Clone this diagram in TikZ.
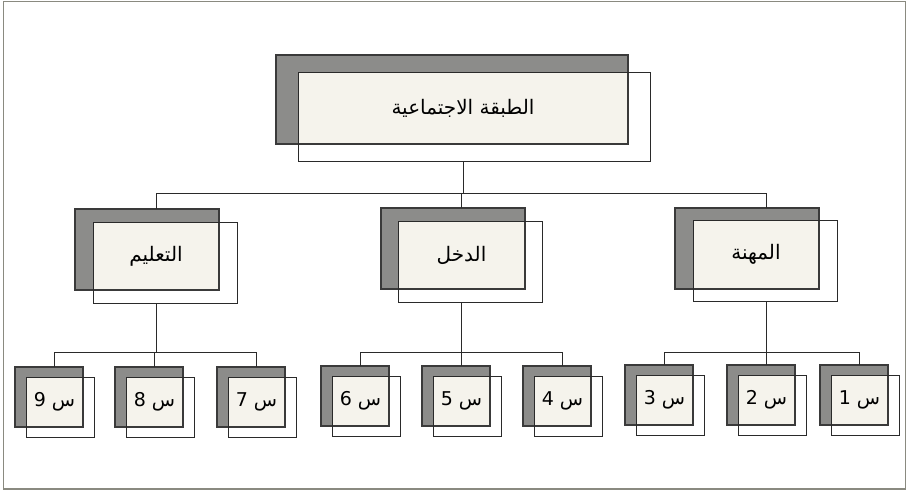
\documentclass[tikz,border=0pt]{standalone}
\usepackage{fontspec}
\usetikzlibrary{calc}
\TeXXeTstate=1
\newfontfamily\arabicfont[Script=Arabic]{DejaVu Sans}
\definecolor{boxgray}{HTML}{8C8C8A}
\definecolor{boxedge}{HTML}{3A3A3A}
\definecolor{boxlight}{HTML}{F5F3EC}
\definecolor{framegray}{HTML}{8A8A80}
\definecolor{linecol}{HTML}{2A2A2A}
\tikzset{
  shadowbox/.style={fill=boxgray, draw=none, inner sep=0pt, outer sep=0pt, anchor=north west},
  shadowedge/.style={draw=boxedge, line width=1.3pt},
  outlinebox/.style={draw=linecol, line width=0.8pt, inner sep=0pt, outer sep=0pt, anchor=north west},
  labeltext/.style={font=\arabicfont\fontsize{20}{24}\selectfont, text=black, inner sep=0pt},
  smalltext/.style={labeltext, font=\arabicfont\fontsize{19}{23}\selectfont},
  conn/.style={draw=linecol, line width=0.8pt},
  frame/.style={draw=framegray, line width=1.2pt}
}
% #1 name, #2 x, #3 y, #4 w, #5 h, #6 dx, #7 dy, #8 label style, #9 text
\newcommand\orgbox[9]{%
  \node[shadowbox, minimum width=#4, minimum height=#5] (#1A) at (#2,#3) {};
  \fill[boxlight] ([shift={(#6,#7)}]#1A.north west) rectangle (#1A.south east);
  \draw[shadowedge] (#1A.north west) rectangle (#1A.south east);
  \node[outlinebox, minimum width=#4, minimum height=#5] (#1B) at ([shift={(#6,#7)}]#1A.north west) {};
  \node[#8] (#1T) at ($(#1B.north west)!0.5!(#1A.south east)$) {#9};
}
\begin{document}
\begin{tikzpicture}[x=1pt,y=-1pt]
\useasboundingbox (0,0) rectangle (909,491);
\draw[frame] (3.5,1.5) rectangle (905.5,489);

% top box
\orgbox{top}{276}{55}{352}{89}{22}{17}{labeltext}{\beginR الطبقة الاجتماعية\endR}
% middle boxes
\orgbox{ed}{75}{209}{144}{81}{18}{13}{labeltext}{\beginR التعليم\endR}
\orgbox{inc}{381}{208}{144}{81}{17}{13}{labeltext}{\beginR الدخل\endR}
\orgbox{job}{675}{208}{144}{81}{18}{12}{labeltext}{\beginR المهنة\endR}
\coordinate (jobX) at ($(jobT)+(10,0)$);
% small boxes
\orgbox{s9}{15}{367}{68}{60}{11}{10}{smalltext}{\beginR س 9\endR}
\orgbox{s8}{115}{367}{68}{60}{11}{10}{smalltext}{\beginR س 8\endR}
\orgbox{s7}{217}{367}{68}{60}{11}{10}{smalltext}{\beginR س 7\endR}
\orgbox{s6}{321}{366}{68}{60}{11}{10}{smalltext}{\beginR س 6\endR}
\orgbox{s5}{422}{366}{68}{60}{11}{10}{smalltext}{\beginR س 5\endR}
\orgbox{s4}{523}{366}{68}{60}{11}{10}{smalltext}{\beginR س 4\endR}
\orgbox{s3}{625}{365}{68}{60}{11}{10}{smalltext}{\beginR س 3\endR}
\orgbox{s2}{727}{365}{68}{60}{11}{10}{smalltext}{\beginR س 2\endR}
\orgbox{s1}{820}{365}{68}{60}{11}{10}{smalltext}{\beginR س 1\endR}

% connectors: top level
\coordinate (bus0) at (0,193);
\draw[conn] (topB.south -| topT) -- (topT |- bus0);
\draw[conn] (edT |- bus0) -- (jobX |- bus0);
\draw[conn] (edT |- bus0) -- (edT |- edA.north);
\draw[conn] (incT |- bus0) -- (incT |- incA.north);
\draw[conn] (jobX |- bus0) -- (jobX |- jobA.north);

% connectors: lower level
\coordinate (bus1) at (0,352);
\draw[conn] (edT |- edB.south) -- (edT |- bus1);
\draw[conn] (s9T |- bus1) -- (s7T |- bus1);
\foreach \s in {s9,s8,s7} \draw[conn] (\s T |- bus1) -- (\s T |- \s A.north);

\draw[conn] (incT |- incB.south) -- (incT |- bus1);
\draw[conn] (s6T |- bus1) -- (s4T |- bus1);
\foreach \s in {s6,s5,s4} \draw[conn] (\s T |- bus1) -- (\s T |- \s A.north);

\draw[conn] (jobX |- jobB.south) -- (jobX |- bus1);
\draw[conn] (s3T |- bus1) -- (s1T |- bus1);
\foreach \s in {s3,s2,s1} \draw[conn] (\s T |- bus1) -- (\s T |- \s A.north);
\end{tikzpicture}
\end{document}
